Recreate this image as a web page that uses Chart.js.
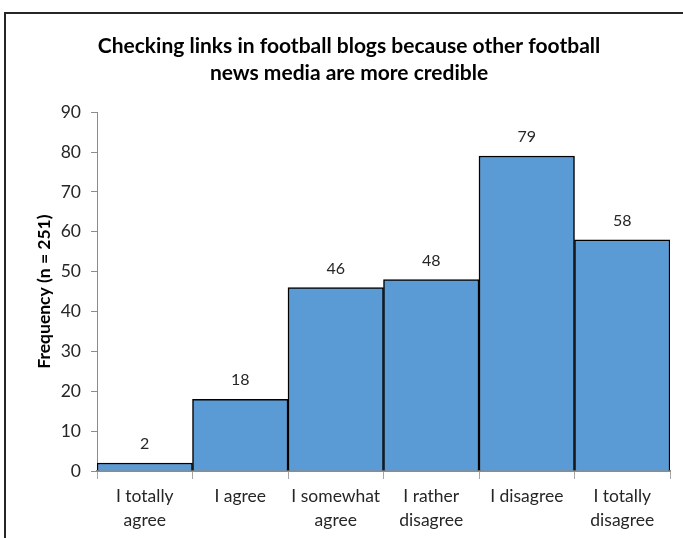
<!DOCTYPE html>
<html>
<head>
<meta charset="utf-8">
<script src="https://cdn.jsdelivr.net/npm/chart.js@4"></script>
<style>
  html, body { margin: 0; padding: 0; background: #fff; overflow: hidden; }
  #frame {
    position: absolute; left: 4px; top: 12px;
    width: 720px; height: 560px;
    border: 2px solid #262626;
  }
  #chart { position: absolute; left: 0; top: 0; }
</style>
</head>
<body>
<div id="frame"></div>
<canvas id="chart" width="683" height="538"></canvas>
<script>
// Data
const categories = [
  ['I totally', 'agree'],
  'I agree',
  ['I somewhat', 'agree'],
  ['I rather', 'disagree'],
  'I disagree',
  ['I totally', 'disagree']
];
const frequencies = [2, 18, 46, 48, 79, 58];
const yTicks = [0, 10, 20, 30, 40, 50, 60, 70, 80, 90];
const titleLines = [
  'Checking links in football blogs because other football',
  'news media are more credible'
];
const yTitle = 'Frequency (n = 251)';

const FONT = "Lato, 'Open Sans', sans-serif";

// Value labels above each bar
const valueLabels = {
  id: 'valueLabels',
  afterDatasetsDraw(chart) {
    const ctx = chart.ctx;
    const meta = chart.getDatasetMeta(0);
    ctx.save();
    ctx.font = '16px ' + FONT;
    ctx.fillStyle = '#262626';
    ctx.textAlign = 'center';
    ctx.textBaseline = 'bottom';
    meta.data.forEach((bar, i) => {
      ctx.fillText(String(frequencies[i]), bar.x, bar.y - 11);
    });
    ctx.restore();
  }
};

const ctx = document.getElementById('chart').getContext('2d');
new Chart(ctx, {
  type: 'bar',
  data: {
    labels: categories,
    datasets: [{
      data: frequencies,
      backgroundColor: '#5B9BD5',
      borderColor: '#000000',
      borderWidth: 1.5,
      barPercentage: 1,
      categoryPercentage: 1
    }]
  },
  options: {
    responsive: false,
    animation: false,
    // left padding keeps the title centred inside the framed area
    layout: { padding: { left: 28, right: 13, top: 0, bottom: 0 } },
    plugins: {
      legend: { display: false },
      tooltip: { enabled: false },
      title: {
        display: true,
        text: titleLines,
        color: '#000000',
        font: { family: FONT, size: 21, weight: 'bold', lineHeight: 1.29 },
        padding: { top: 32.5, bottom: 25.5 }
      }
    },
    scales: {
      x: {
        afterFit(scale) { scale.height = 67; },
        grid: {
          offset: true,
          drawOnChartArea: false,
          drawTicks: true,
          tickLength: 8,
          color: '#a6a6a6'
        },
        border: { color: '#8c8c8c', width: 2 },
        ticks: {
          color: '#262626',
          padding: 5,
          maxRotation: 0,
          autoSkip: false,
          font: { family: FONT, size: 17.5, lineHeight: 1.37 }
        }
      },
      y: {
        min: 0,
        max: 90,
        afterFit(scale) { scale.width = 69; },
        afterBuildTicks(scale) { scale.ticks = yTicks.map(v => ({ value: v })); },
        grid: {
          drawOnChartArea: false,
          drawTicks: true,
          tickLength: 6,
          color: '#8c8c8c'
        },
        border: { color: '#8c8c8c', width: 1 },
        ticks: {
          color: '#262626',
          padding: 10,
          font: { family: FONT, size: 17.5 }
        },
        title: {
          display: true,
          text: yTitle,
          color: '#000000',
          font: { family: FONT, size: 17.5, weight: 'bold', lineHeight: 1.2 },
          padding: { top: 5.5 }
        }
      }
    }
  },
  plugins: [valueLabels]
});
</script>
</body>
</html>
